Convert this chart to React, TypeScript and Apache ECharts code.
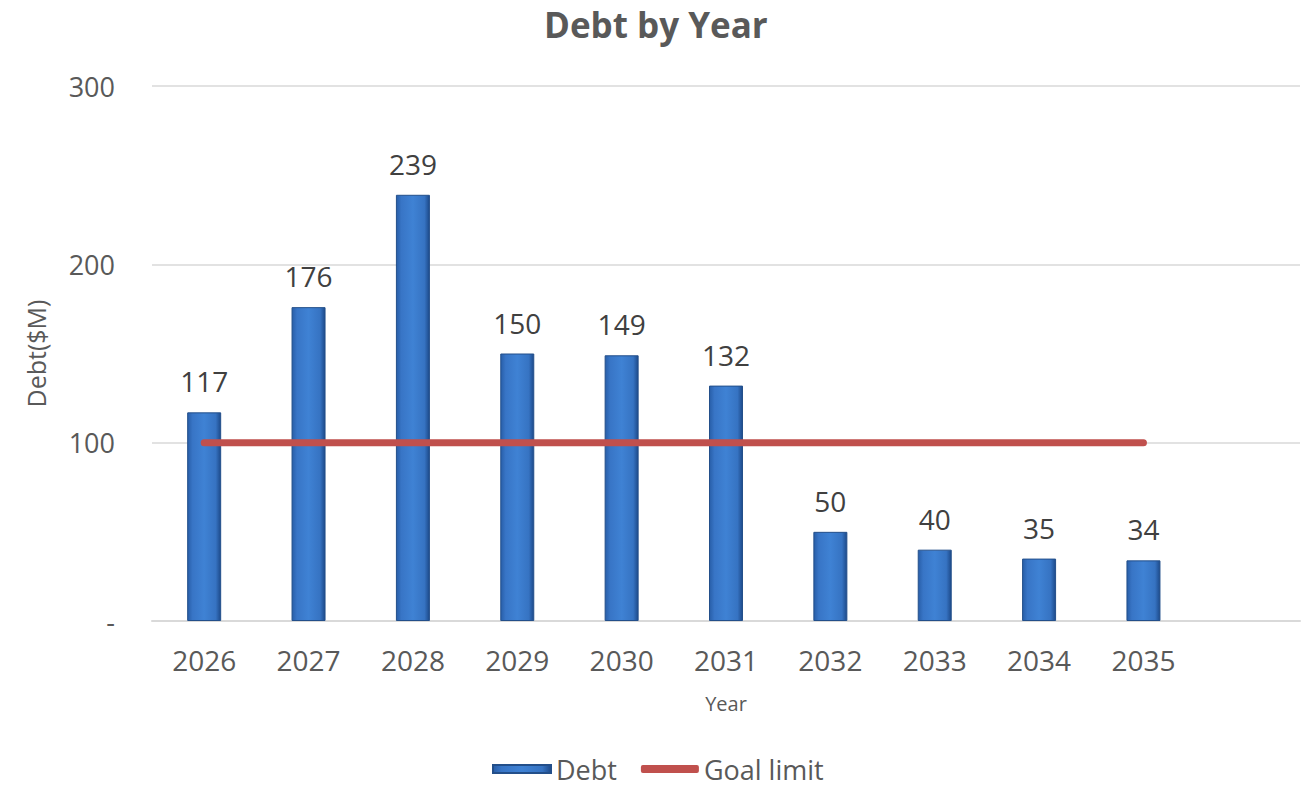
import React, { useEffect, useRef } from "react";
import * as echarts from "echarts";

const years = ["2026", "2027", "2028", "2029", "2030", "2031", "2032", "2033", "2034", "2035", ""];
const debt = [117, 176, 239, 150, 149, 132, 50, 40, 35, 34];
const goalLimit = [100, 100, 100, 100, 100, 100, 100, 100, 100, 100];

const FONT = "'Open Sans', 'Noto Sans', sans-serif";

export default function App() {
  const ref = useRef<HTMLDivElement>(null);
  useEffect(() => {
    if (!ref.current) return;
    const chart = echarts.init(ref.current, undefined, { renderer: "svg" });
    const barFill = new echarts.graphic.LinearGradient(0, 0, 1, 0, [
      { offset: 0, color: "#285ea8" },
      { offset: 0.15, color: "#3875c6" },
      { offset: 0.5, color: "#3f82d4" },
      { offset: 0.85, color: "#3673c2" },
      { offset: 1, color: "#1d4a8a" },
    ]);
    chart.setOption({
      animation: false,
      textStyle: { fontFamily: FONT },
      title: {
        text: "Debt by Year",
        left: 539,
        top: 2,
        textStyle: { fontFamily: FONT, fontSize: 35, fontWeight: "bold", color: "#595959" },
      },
      legend: {
        bottom: 0,
        left: 487,
        itemGap: 24,
        textStyle: { fontFamily: FONT, fontSize: 27, lineHeight: 32, color: "#595959" },
        data: [
          { name: "Debt", icon: "rect", itemWidth: 54, itemHeight: 14 },
          { name: "Goal limit", icon: "roundRect" },
        ],
        itemWidth: 58,
        itemHeight: 8,
      },
      grid: { left: 152, right: 1, top: 86, bottom: 169 },
      xAxis: {
        type: "category",
        data: years,
        name: "Year",
        nameLocation: "middle",
        nameGap: 72,
        nameTextStyle: { fontFamily: FONT, fontSize: 20, color: "#595959" },
        axisLine: { lineStyle: { color: "#d9d9d9", width: 2 } },
        axisTick: { show: false },
        axisLabel: { fontFamily: FONT, fontSize: 28, color: "#595959", margin: 25 },
      },
      yAxis: {
        type: "value",
        min: 0,
        max: 300,
        interval: 100,
        name: "Debt($M)",
        nameLocation: "middle",
        nameGap: 104,
        nameRotate: 90,
        nameTextStyle: { fontFamily: FONT, fontSize: 25, color: "#595959" },
        axisLine: { show: false },
        axisTick: { show: false },
        axisLabel: {
          fontFamily: FONT,
          fontSize: 27,
          color: "#595959",
          margin: 37,
          formatter: (v: number) => (v === 0 ? "-" : String(v)),
        },
        splitLine: { lineStyle: { color: "#d9d9d9", width: 1.5 } },
      },
      series: [
        {
          name: "Debt",
          type: "bar",
          data: debt,
          barWidth: 34,
          itemStyle: {
            color: barFill,
            borderColor: "#234f8a",
            borderWidth: 1,
          },
          label: {
            show: true,
            position: "top",
            distance: 17,
            fontFamily: FONT,
            fontSize: 28,
            color: "#404040",
          },
          z: 2,
        },
        {
          name: "Goal limit",
          type: "line",
          data: goalLimit,
          symbol: "none",
          lineStyle: {
            color: "#c0504d",
            width: 7,
            cap: "round",
          },
          itemStyle: { color: "#c0504d" },
          z: 3,
        },
      ],
    });
    return () => chart.dispose();
  }, []);
  return (
    <div
      ref={ref}
      style={{ position: "absolute", left: 0, top: 0, width: 1301, height: 790 }}
    />
  );
}
